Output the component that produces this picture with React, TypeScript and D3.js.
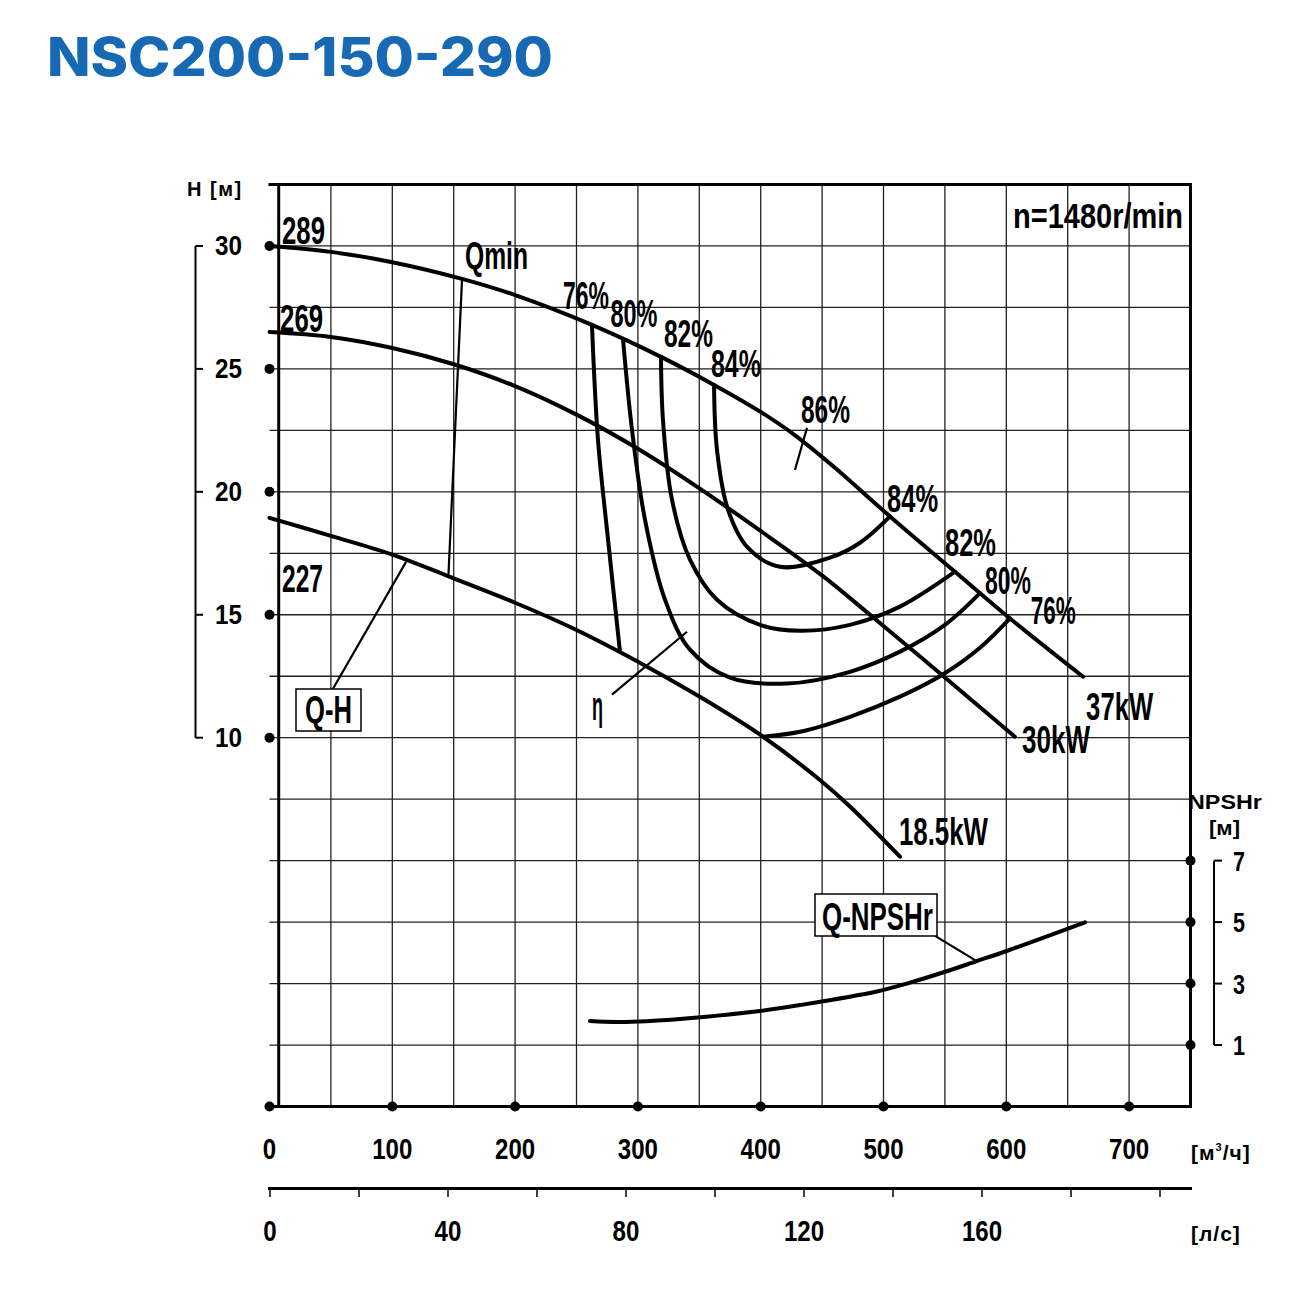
import React, { useEffect, useLayoutEffect, useRef, useState } from 'react';
import * as d3 from 'd3';

// pump NSC200-150-290, n = 1480 r/min
const qTicks = [0, 100, 200, 300, 400, 500, 600, 700];
const qGrid = [50, 100, 150, 200, 250, 300, 350, 400, 450, 500, 550, 600, 650, 700];
const hTicks = [30, 25, 20, 15, 10];
const hGrid = [-2.5, 0, 2.5, 5, 7.5, 10, 12.5, 15, 17.5, 20, 22.5, 25, 27.5, 30];
const npshTicks = [7, 5, 3, 1];
const lsTicks = [0, 40, 80, 120, 160];
const lsMinor = [0, 20, 40, 60, 80, 100, 120, 140, 160, 180, 200];

// Q [m3/h], H [m]
const qh289: [number, number][] = [
  [0, 30.0], [50, 29.76], [100, 29.34], [156.8, 28.66], [200, 28.0], [262.6, 26.79], [318.8, 25.49],
  [362, 24.35], [400, 23.25], [428, 22.3], [460, 21.0], [505.3, 19.0], [558.2, 16.75], [603, 14.85], [662.5, 12.48],
];
const qh269: [number, number][] = [
  [0, 26.5], [50, 26.3], [100, 25.85], [149.4, 25.2], [200, 24.3], [249.6, 23.15], [300, 21.75],
  [349.8, 20.15], [400.2, 18.4], [449.9, 16.6], [489, 15.0], [547.6, 12.55], [607, 10.04],
];
const qh227: [number, number][] = [
  [0, 18.94], [50, 18.21], [100.6, 17.44], [147, 16.54], [200, 15.49], [249.6, 14.39], [307.4, 12.89],
  [354.6, 11.54], [401.9, 10.04], [448, 8.29], [472.7, 7.2], [513.4, 5.16],
];

// iso-efficiency lines
const eta76a: [number, number][] = [[262.6, 26.79], [267.5, 22.11], [275.7, 18.05], [285.4, 13.5]];
const eta76b: [number, number][] = [
  [401.9, 10.04], [432, 10.24], [472.7, 10.85], [513.4, 11.67], [547.6, 12.55], [578.6, 13.66], [603, 14.85],
];
const eta80: [number, number][] = [
  [287.9, 26.2], [295.2, 22.52], [305.8, 18.86], [322.1, 15.61], [342.4, 13.58], [375, 12.44],
  [421.4, 12.2], [472.7, 12.68], [513.4, 13.5], [550, 14.59], [578.6, 15.88],
];
const eta82: [number, number][] = [
  [318.8, 25.49], [320.4, 22.93], [327.8, 19.67], [342.4, 17.24], [364.4, 15.61], [399.4, 14.59],
  [432, 14.35], [472.7, 14.59], [513.4, 15.33], [558.2, 16.75],
];
const eta84: [number, number][] = [
  [362, 24.35], [364.4, 21.71], [373.4, 19.27], [389.7, 17.72], [415.7, 16.95], [456.4, 17.32],
  [480.9, 17.93], [505.3, 19.0],
];

const qMin: [number, number][] = [[156.8, 28.66], [145.7, 16.59]];

// Q [m3/h], NPSHr [m]
const npsh: [number, number][] = [
  [261, 1.78], [285.4, 1.75], [334.3, 1.85], [399.4, 2.11], [432, 2.3], [494.5, 2.74],
  [521.6, 3.03], [551.5, 3.4], [575.9, 3.73], [600.3, 4.06], [664.1, 4.99],
];

// leader lines
const leaderQH: [number, number][] = [[51.7, 11.99], [111.2, 17.15]];
const leaderEta: [number, number][] = [[278.9, 11.75], [340, 14.31]];
const leader86: [number, number][] = [[427.9, 20.89], [437.7, 22.6]];
const leaderNpsh: [number, number][] = [[542, 4.55], [575.9, 3.73]];

// curve labels: text, Q and H at the baseline start, drawn width
const curveLabels = [
  { t: '289', q: 10.2, h: 30.08, w: 43 },
  { t: '269', q: 8.6, h: 26.5, w: 43 },
  { t: '227', q: 10.2, h: 15.93, w: 41 },
  { t: 'Qmin', q: 159.2, h: 29.07, w: 63 },
  { t: '76%', q: 239, h: 27.44, w: 46 },
  { t: '80%', q: 277.7, h: 26.71, w: 47 },
  { t: '82%', q: 321.2, h: 25.89, w: 49 },
  { t: '84%', q: 359.5, h: 24.67, w: 50 },
  { t: '86%', q: 432.8, h: 22.8, w: 49 },
  { t: '84%', q: 502.9, h: 19.19, w: 51 },
  { t: '82%', q: 550.1, h: 17.4, w: 51 },
  { t: '80%', q: 582.7, h: 15.85, w: 46 },
  { t: '76%', q: 620, h: 14.63, w: 45 },
  { t: '37kW', q: 665, h: 10.73, w: 67 },
  { t: '30kW', q: 612.8, h: 9.39, w: 68 },
  { t: '18.5kW', q: 512.6, h: 5.65, w: 89 },
];

const FONT = '"Liberation Sans", Arial, sans-serif';

const x = d3.scaleLinear().domain([0, 750]).range([269.5, 1190.5]);
const y = d3.scaleLinear().domain([-5, 32.5]).range([1106.5, 184.5]);
const yN = d3.scaleLinear().domain([-1, 7]).range([y(-5), y(5)]);
const xLs = d3.scaleLinear().domain([0, 200]).range([270, 1160]);
const LEFT_EDGE = 7.5;

const lineH = d3.line<[number, number]>().x(d => x(d[0])).y(d => y(d[1])).curve(d3.curveCatmullRom.alpha(0.5));
const lineN = d3.line<[number, number]>().x(d => x(d[0])).y(d => yN(d[1])).curve(d3.curveCatmullRom.alpha(0.5));
const straightH = d3.line<[number, number]>().x(d => x(d[0])).y(d => y(d[1]));
const straightN = d3.line<[number, number]>().x(d => x(d[0])).y(d => yN(d[1]));

// condensed text: measured once, then squeezed horizontally to width w
function Label(p: { x: number; y: number; w: number; size: number; text: string; weight?: number; anchor?: string }) {
  const ref = useRef<SVGTextElement>(null);
  const [sx, setSx] = useState(1);
  useLayoutEffect(() => {
    if (ref.current) {
      const n = ref.current.getComputedTextLength();
      if (n > 0) setSx(p.w / n);
    }
  }, [p.w, p.text, p.size]);
  return (
    <text
      ref={ref}
      transform={`translate(${p.x},${p.y}) scale(${sx},1)`}
      fontSize={p.size}
      fontWeight={p.weight || 400}
      fontFamily={FONT}
      textAnchor={p.anchor || 'start'}
    >
      {p.text}
    </text>
  );
}

export default function App() {
  useEffect(() => {
    document.body.style.margin = '0';
  }, []);

  const top = y(32.5), bottom = y(-5), right = x(750);

  return (
    <svg width={1310} height={1295} style={{ display: 'block', background: '#fff' }}>
      <text x={47} y={76} fill="#1769b4" fontFamily="Inter, sans-serif" fontWeight={800} fontSize={54}
        textLength={506} lengthAdjust="spacingAndGlyphs">NSC200-150-290</text>

      {/* grid */}
      <g stroke="#222" strokeWidth={1.3}>
        {qGrid.map(q => <line key={'v' + q} x1={x(q)} x2={x(q)} y1={top} y2={bottom} />)}
        {hGrid.map(h => <line key={'h' + h} x1={x(0)} x2={right} y1={y(h)} y2={y(h)} />)}
      </g>
      {/* frame */}
      <g stroke="#000" strokeWidth={3} fill="none">
        <line x1={x(0) - 1} x2={right + 1.5} y1={top} y2={top} />
        <line x1={x(0)} x2={right + 1.5} y1={bottom} y2={bottom} />
        <line x1={x(LEFT_EDGE)} x2={x(LEFT_EDGE)} y1={top} y2={bottom} />
        <line x1={right} x2={right} y1={top} y2={bottom} />
      </g>

      {/* curves */}
      <g fill="none" stroke="#000" strokeWidth={4} strokeLinecap="round">
        <path d={lineH(qh289) || ''} />
        <path d={lineH(qh269) || ''} />
        <path d={lineH(qh227) || ''} />
        <path d={lineH(eta76a) || ''} />
        <path d={lineH(eta76b) || ''} />
        <path d={lineH(eta80) || ''} />
        <path d={lineH(eta82) || ''} />
        <path d={lineH(eta84) || ''} />
        <path d={lineN(npsh) || ''} />
      </g>
      <g fill="none" stroke="#000" strokeWidth={2.2}>
        <path d={straightH(qMin) || ''} />
        <path d={straightH(leaderQH) || ''} />
        <path d={straightH(leaderEta) || ''} />
        <path d={straightH(leader86) || ''} />
        <path d={straightN(leaderNpsh) || ''} />
      </g>

      {/* curve labels */}
      {curveLabels.map((l, i) => (
        <Label key={i} x={x(l.q)} y={y(l.h)} w={l.w} size={39} weight={700} text={l.t} />
      ))}
      <Label x={x(262.6)} y={y(10.73)} w={11} size={40} weight={700} text="η" />
      <Label x={1183} y={228} w={170} size={35} weight={700} text="n=1480r/min" anchor="end" />

      {/* boxed labels */}
      <rect x={296} y={689} width={65} height={42} fill="#fff" stroke="#000" strokeWidth={1.5} />
      <Label x={305} y={723} w={47} size={39} weight={700} text="Q-H" />
      <rect x={815} y={894} width={122} height={42} fill="#fff" stroke="#000" strokeWidth={1.5} />
      <Label x={822} y={930} w={111} size={38} weight={700} text="Q-NPSHr" />

      {/* H axis */}
      <text x={187} y={196} fontFamily={FONT} fontWeight={700} fontSize={20} letterSpacing={1.5}>H [м]</text>
      <g stroke="#000" strokeWidth={2} fill="none">
        <line x1={195.5} x2={195.5} y1={y(30)} y2={y(10)} />
        {hTicks.map(h => <line key={h} x1={195.5} x2={203} y1={y(h)} y2={y(h)} />)}
      </g>
      {hTicks.map(h => (
        <g key={h}>
          <circle cx={x(0)} cy={y(h)} r={5} fill="#000" />
          <Label x={242} y={y(h) + 9.5} w={27} size={27} weight={700} text={String(h)} anchor="end" />
        </g>
      ))}

      {/* NPSHr axis */}
      <Label x={1188} y={809} w={74} size={20} weight={700} text="NPSHr" />
      <Label x={1209} y={835} w={31} size={20} weight={700} text="[м]" />
      <g stroke="#000" strokeWidth={2} fill="none">
        <line x1={1214} x2={1214} y1={yN(7)} y2={yN(1)} />
        {npshTicks.map(n => <line key={n} x1={1214} x2={1222} y1={yN(n)} y2={yN(n)} />)}
      </g>
      {npshTicks.map(n => (
        <g key={n}>
          <circle cx={right} cy={yN(n)} r={5} fill="#000" />
          <Label x={1233} y={yN(n) + 10} w={12} size={28} weight={700} text={String(n)} />
        </g>
      ))}

      {/* Q axis, m3/h */}
      {qTicks.map(q => (
        <g key={q}>
          <circle cx={x(q)} cy={bottom} r={5} fill="#000" />
          <Label x={x(q)} y={1159} w={String(q).length * 13.4} size={29} weight={700} text={String(q)} anchor="middle" />
        </g>
      ))}
      <text x={1191} y={1160} fontFamily={FONT} fontWeight={700} fontSize={21} letterSpacing={1}>
        [м<tspan fontSize={11} dy={-9}>3</tspan><tspan dy={9}>/ч]</tspan>
      </text>

      {/* Q axis, l/s */}
      <g stroke="#000" fill="none">
        <line x1={268} x2={1192} y1={1188.5} y2={1188.5} strokeWidth={3} />
        {lsMinor.map(v => <line key={v} x1={xLs(v)} x2={xLs(v)} y1={1188} y2={1197} strokeWidth={1.5} />)}
      </g>
      {lsTicks.map(v => (
        <Label key={v} x={xLs(v)} y={1241} w={String(v).length * 13.4} size={29} weight={700} text={String(v)} anchor="middle" />
      ))}
      <text x={1191} y={1241} fontFamily={FONT} fontWeight={700} fontSize={21} letterSpacing={1}>[л/с]</text>
    </svg>
  );
}
